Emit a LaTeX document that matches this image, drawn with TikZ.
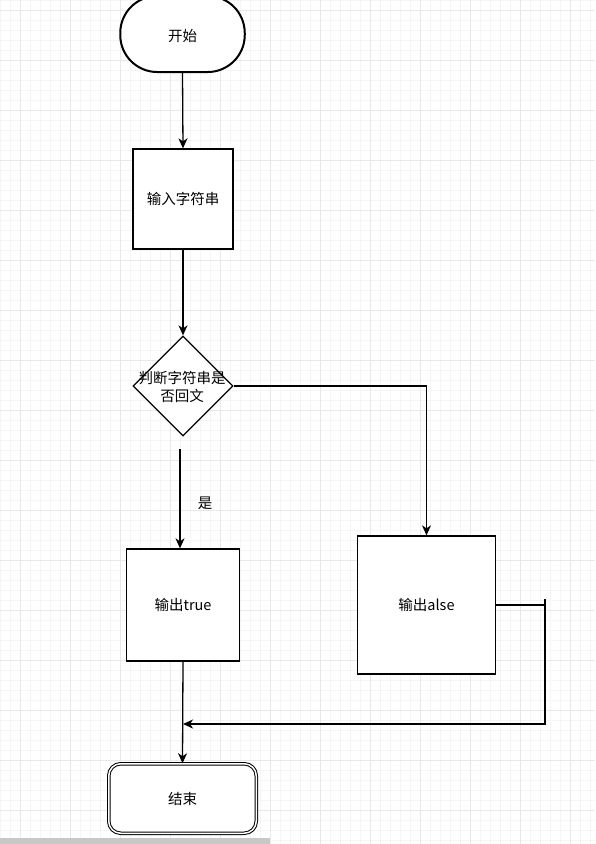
\documentclass[tikz,border=0pt]{standalone}
\usepackage{fontspec}
\setmainfont{Noto Sans CJK SC}
\usetikzlibrary{shapes.geometric,arrows.meta}
\definecolor{gridminor}{HTML}{F5F5F5}
\definecolor{gridmajor}{HTML}{E8E8E8}
\definecolor{barg}{HTML}{C8C8C8}
\tikzset{
  startbox/.style={draw, fill=white, line width=2pt, rounded corners=37pt, minimum width=124.5pt, minimum height=76pt, inner sep=0pt},
  procbox/.style={draw, fill=white, line width=1.3pt, inner sep=0pt},
  decbox/.style={draw, fill=white, diamond, aspect=1, line width=1.3pt, minimum width=100pt, minimum height=100pt, inner sep=0pt},
  endbox/.style={draw, fill=white, double, double distance=1.5pt, line width=1pt, rounded corners=12pt, minimum width=147.5pt, minimum height=69.5pt, inner sep=0pt},
  txt/.style={inner sep=0pt},
  arr/.style={line width=1.3pt, -{Stealth[length=10pt,width=9pt,inset=3pt]}},
  plain/.style={line width=1.3pt}
}
\begin{document}
\begin{tikzpicture}[x=1pt,y=-1pt,font=\fontsize{14.5}{18}\selectfont]
\useasboundingbox (0,0) rectangle (595,844);
\fill[white] (0,0) rectangle (595,844);
% grid
\foreach \x in {0,10,...,590} \draw[gridminor,line width=0.9pt] (\x,0) -- (\x,844);
\foreach \y in {0,10,...,840} \draw[gridminor,line width=0.9pt] (0,\y) -- (595,\y);
\foreach \x in {20,70,...,570} \draw[gridmajor,line width=0.9pt] (\x,0) -- (\x,844);
\foreach \y in {10,60,...,810} \draw[gridmajor,line width=0.9pt] (0,\y) -- (595,\y);
% nodes
\node[startbox] (start) at (182.5,34) {};
\node[txt] (starttext) at (182.5,36.5) {开始};
\node[procbox, minimum width=100pt, minimum height=100pt] (input) at (183,199) {输入字符串};
\node[decbox] (dec) at (183,386) {};
\node[txt, align=center] (dectext) at (182,387) {判断字符串是\\否回文};
\node[procbox, minimum width=112.5pt, minimum height=112pt] (true) at (183,605) {输出true};
\node[procbox, minimum width=137.5pt, minimum height=138pt] (false) at (426.5,605) {输出alse};
\node[endbox] (end) at (182.5,798.5) {结束};
\node[txt] (yes) at (205,503) {是};
% coordinates
\coordinate (yesstart) at (180,449);
\coordinate (stub) at (545,599);
\coordinate (corner) at (545,724);
\coordinate (merge) at (183,724);
% connectors
\draw[arr] (start.south) -- (input.north);
\draw[arr] (input.south) -- (dec.north);
\draw[arr] (dec.east) -| (false.north);
\draw[arr] (yesstart) -- (yesstart |- true.north);
\draw[plain] (false.east) -- (false.east -| stub);
\draw[arr] (stub) -- (corner) -- (merge);
\draw[arr] (true.south) -- (end.north);
% bottom scrollbar
\fill[barg] (0,838) rectangle (270,844);
\end{tikzpicture}
\end{document}
